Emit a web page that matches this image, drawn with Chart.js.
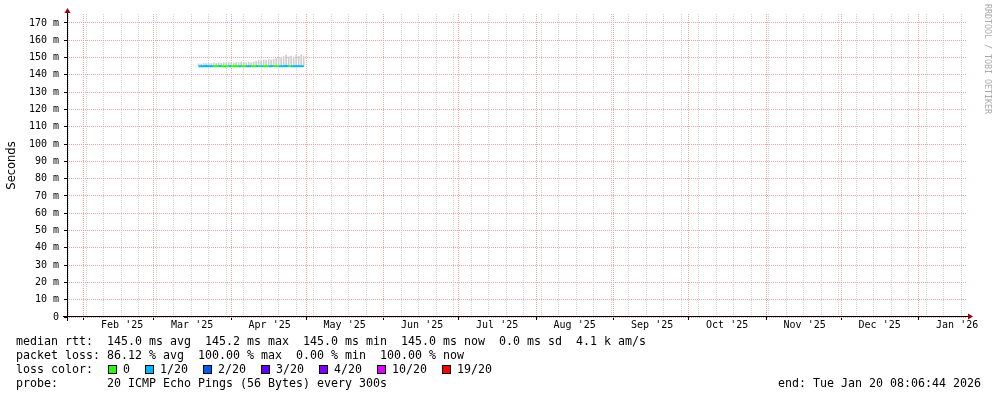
<!DOCTYPE html>
<html lang="en">
<head>
  <meta charset="UTF-8" />
  <title>SmokePing</title>
  <script src="https://cdn.jsdelivr.net/npm/chart.js"></script>
  <style>
    body {
      margin: 0;
      background: #fff;
      font-family: 'DejaVu Sans Mono', monospace;
      color: #000;
    }
    .wrap { position: relative; width: 997px; height: 397px; overflow: hidden; }
    canvas { position: absolute; left: 0; top: 0; }
    .legend {
      position: absolute; left: 16px; top: 334px;
      font-size: 11.63px; line-height: 14px; white-space: pre;
    }
    .box {
      display: inline-block; width: 7px; height: 7px;
      border: 1px solid #000; margin: 0 6px 0 1px; vertical-align: -1px;
    }
    .end {
      position: absolute; right: 16px; top: 376px;
      font-size: 11.63px; line-height: 14px; white-space: pre;
    }
    .credit {
      position: absolute; left: 983px; top: 4px;
      writing-mode: vertical-rl; font-size: 8.3px; color: #aaa;
    }
  </style>
</head>
<body>
<div class="wrap">
  <canvas id="smoke" width="997" height="397"></canvas>
  <div class="credit">RRDTOOL / TOBI OETIKER</div>
  <div class="legend" id="legend"></div>
  <div class="end">end: Tue Jan 20 08:06:44 2026</div>
</div>

<script>
  // days counted from 2025-01-01 (UTC)
  const dayOf = (y, m, d) => (Date.UTC(y, m, d) - Date.UTC(2025, 0, 1)) / 864e5;
  const endDay = dayOf(2026, 0, 20) + (8 + 6 / 60 + 44 / 3600) / 24;
  const startDay = endDay - 360;

  const monthLabels = ["Feb '25", "Mar '25", "Apr '25", "May '25", "Jun '25", "Jul '25",
                       "Aug '25", "Sep '25", "Oct '25", "Nov '25", "Dec '25", "Jan '26"];
  const yLabels = [0, 10, 20, 30, 40, 50, 60, 70, 80, 90, 100, 110, 120, 130, 140, 150, 160, 170];

  // sample days (Mar 19 .. Apr 30 2025)
  const days = [77, 78, 79, 80, 81, 82, 83, 84, 85, 86, 87, 88, 89, 90, 91, 92, 93, 94, 95, 96, 97, 98,
                99, 100, 101, 102, 103, 104, 105, 106, 107, 108, 109, 110, 111, 112, 113, 114, 115, 116,
                117, 118, 119];
  const median = [145.0, 145.0, 145.0, 145.1, 145.0, 145.0, 145.0, 145.0, 145.1, 145.0, 145.0, 145.0,
                  145.0, 145.0, 145.0, 145.1, 145.0, 145.0, 145.0, 145.0, 145.0, 145.0, 145.0, 145.0,
                  145.1, 145.0, 145.0, 145.0, 145.0, 145.0, 145.2, 145.0, 145.0, 145.0, 145.0, 145.1,
                  145.0, 145.0, 145.0, 145.0, 145.0, 145.0, 145.0];
  const smokeLo = [144.8, 144.8, 144.7, 144.8, 144.8, 144.9, 144.8, 144.8, 144.7, 144.8, 144.8, 144.8,
                   144.9, 144.8, 144.8, 144.7, 144.8, 144.8, 144.8, 144.9, 144.8, 144.8, 144.8, 144.7,
                   144.8, 144.8, 144.8, 144.9, 144.8, 144.8, 144.7, 144.8, 144.8, 144.8, 144.8, 144.9,
                   144.8, 144.8, 144.7, 144.8, 144.8, 144.8, 144.8];
  const smokeHi = [146.4, 146.2, 146.6, 146.5, 146.8, 146.6, 146.9, 146.7, 147.0, 146.8, 147.1, 146.9,
                   147.2, 147.0, 146.8, 147.2, 147.0, 147.3, 147.1, 146.9, 147.3, 147.1, 147.4, 147.8,
                   148.3, 148.1, 148.6, 148.4, 148.9, 148.6, 149.0, 149.6, 150.2, 149.8, 150.6, 151.4,
                   150.4, 150.9, 150.3, 151.5, 150.7, 151.6, 150.9];
  // lost pings out of 20 per sample, as an index into lossColors
  const loss = [1, 1, 1, 1, 1, 1, 0, 0, 1, 0, 0, 0, 1, 0, 0, 0, 1, 0, 0, 1, 1, 0, 0, 1, 0, 1, 0, 0,
                1, 1, 0, 0, 1, 1, 1, 1, 0, 1, 1, 1, 1, 1, 1];

  const lossLabels = ['0', '1/20', '2/20', '3/20', '4/20', '10/20', '19/20'];
  const lossColors = ['#26ff00', '#00b8ff', '#0059ff', '#5e00ff', '#7e00ff', '#dd00ff', '#ff0000'];

  const majorGrid = 'rgb(236, 165, 165)';
  const minorGrid = 'rgb(210, 210, 210)';
  const mono = 'DejaVu Sans Mono';

  // legend text under the graph
  const boxes = lossLabels.map((l, i) =>
    `<span class="box" style="background:${lossColors[i]}"></span>${l}`).join('  ');
  document.getElementById('legend').innerHTML =
    'median rtt:  145.0 ms avg  145.2 ms max  145.0 ms min  145.0 ms now  0.0 ms sd  4.1 k am/s\n' +
    'packet loss: 86.12 % avg  100.00 % max  0.00 % min  100.00 % now\n' +
    'loss color:  ' + boxes + '\n' +
    'probe:       20 ICMP Echo Pings (56 Bytes) every 300s';

  // rrdtool style axis lines with arrow heads
  const axesPlugin = {
    id: 'rrdAxes',
    afterDraw(chart) {
      const { ctx, chartArea: a } = chart;
      const x0 = Math.round(a.left) + 0.5, y0 = Math.round(a.bottom) - 0.5;
      ctx.save();
      ctx.strokeStyle = '#000';
      ctx.lineWidth = 1;
      ctx.beginPath();
      ctx.moveTo(a.left - 4, y0);
      ctx.lineTo(a.right + 2, y0);
      ctx.moveTo(x0, a.bottom + 4);
      ctx.lineTo(x0, a.top - 2);
      ctx.stroke();
      ctx.fillStyle = '#a00000';
      ctx.beginPath();
      ctx.moveTo(a.right + 1, y0 - 3);
      ctx.lineTo(a.right + 6, y0);
      ctx.lineTo(a.right + 1, y0 + 3);
      ctx.fill();
      ctx.beginPath();
      ctx.moveTo(x0 - 3, a.top - 1);
      ctx.lineTo(x0, a.top - 6);
      ctx.lineTo(x0 + 3, a.top - 1);
      ctx.fill();
      ctx.restore();
    }
  };

  new Chart(document.getElementById('smoke'), {
    type: 'bar',
    data: {
      datasets: [
        {
          type: 'line',
          data: days.map((d, i) => ({ x: d, y: median[i] })),
          borderColor: lossColors[1],
          borderWidth: 2,
          pointRadius: 0,
          tension: 0,
          segment: { borderColor: c => lossColors[loss[c.p0DataIndex]] },
          order: 0
        },
        {
          type: 'bar',
          data: days.map((d, i) => ({ x: d, y: [smokeLo[i], smokeHi[i]] })),
          backgroundColor: '#cdcdcd',
          borderWidth: 0,
          barPercentage: 1,
          categoryPercentage: 1,
          grouped: false,
          order: 1
        }
      ]
    },
    options: {
      responsive: false,
      animation: false,
      devicePixelRatio: 1,
      layout: { padding: { left: 0, top: 14, right: 30, bottom: 0 } },
      plugins: { legend: { display: false }, tooltip: { enabled: false } },
      scales: {
        x: {
          type: 'linear',
          min: startDay,
          max: endDay,
          offset: false,
          z: 1,
          afterFit: s => { s.height = 80; },
          afterBuildTicks: s => {
            const t = [];
            monthLabels.forEach((l, i) => {
              const m = dayOf(2025, 1 + i, 1);
              t.push({ value: m, kind: 'month' });
              t.push({ value: m + 15.4, kind: 'label', text: l });
            });
            for (let w = dayOf(2025, 0, 26); w <= s.max; w += 7) {
              if (!t.some(k => k.kind === 'month' && k.value === w)) t.push({ value: w, kind: 'week' });
            }
            s.ticks = t.filter(k => k.value >= s.min && k.value <= s.max).sort((a, b) => a.value - b.value);
          },
          grid: {
            offset: false,
            tickLength: 3,
            color: c => c.tick.kind === 'month' ? majorGrid : c.tick.kind === 'week' ? minorGrid : 'rgba(0,0,0,0)',
            tickColor: c => c.tick.kind === 'month' ? '#000' : 'rgba(0,0,0,0)'
          },
          border: { display: false, dash: [1, 1] },
          ticks: {
            autoSkip: false,
            maxRotation: 0,
            minRotation: 0,
            padding: -1,
            color: '#000',
            font: { family: mono, size: 10 },
            callback: (v, i, ticks) => ticks[i].text || ''
          }
        },
        y: {
          min: 0,
          max: 175.2,
          z: 1,
          afterFit: s => { s.width = 67; },
          afterBuildTicks: s => {
            s.ticks = yLabels.flatMap(v => v + 5 < 175 ? [{ value: v }, { value: v + 5 }] : [{ value: v }]);
          },
          grid: {
            tickLength: 3,
            color: c => c.tick.value % 10 === 0 ? majorGrid : minorGrid,
            tickColor: c => c.tick.value % 10 === 0 ? '#000' : 'rgba(0,0,0,0)'
          },
          border: { display: false, dash: [1, 1] },
          ticks: {
            padding: 5,
            color: '#000',
            font: { family: mono, size: 10 },
            callback: v => yLabels.includes(v) ? (v === 0 ? '0' : v + ' m') : ''
          },
          title: {
            display: true,
            text: 'Seconds',
            color: '#000',
            font: { family: 'DejaVu Sans', size: 11.5 },
            padding: { top: 5, bottom: 0 }
          }
        }
      }
    },
    plugins: [axesPlugin]
  });
</script>
</body>
</html>
